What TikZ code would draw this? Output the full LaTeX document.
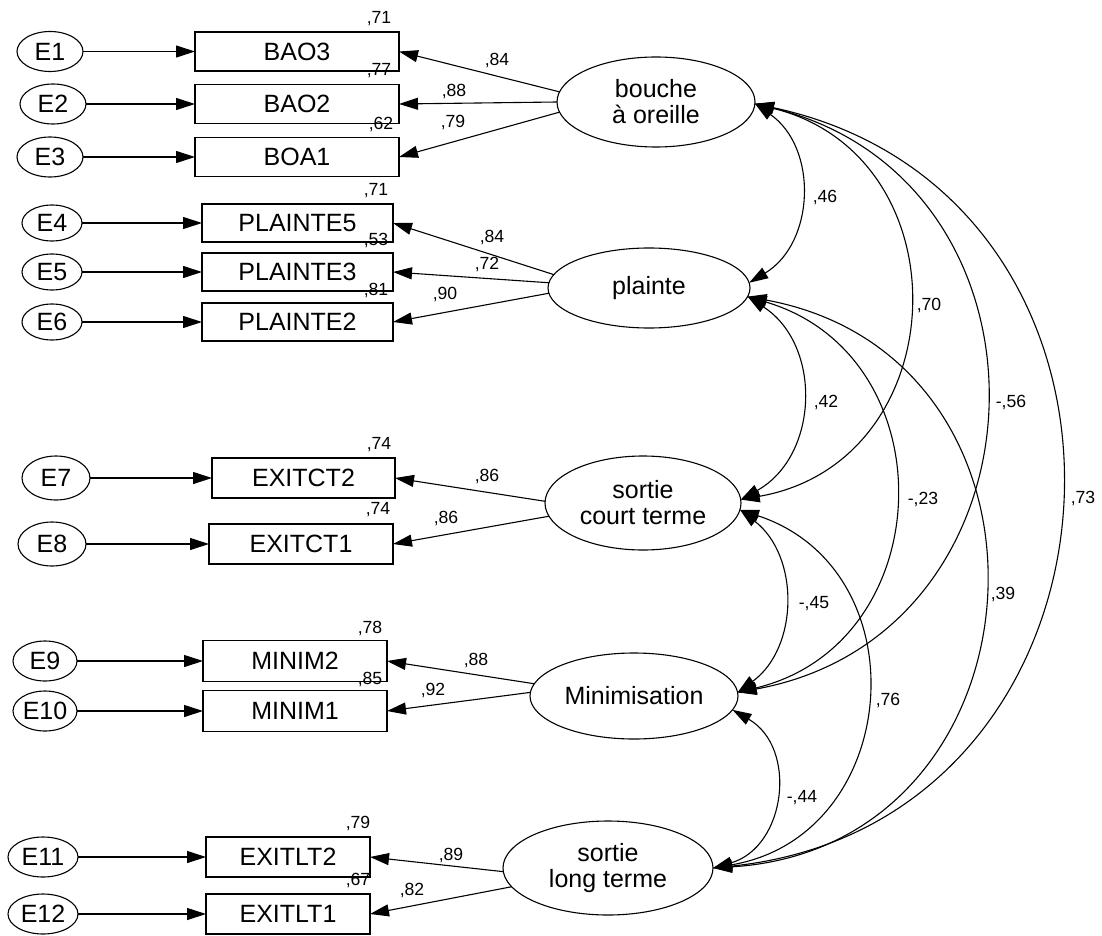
\documentclass[tikz,border=0pt]{standalone}
\usepackage{fontspec}
\setmainfont{Liberation Sans}
\usetikzlibrary{arrows.meta,shapes.geometric}
\begin{document}
\begin{tikzpicture}[x=0.5pt,y=0.5pt,
  every node/.style={inner sep=0pt, outer sep=0pt},
  txt/.style={font=\fontsize{12.5}{13}\selectfont},
  obs/.style={txt, draw, line width=0.55pt, rectangle},
  err/.style={txt, draw, line width=0.55pt, ellipse},
  lat/.style={txt, draw, line width=0.55pt, ellipse, align=center},
  lab/.style={font=\fontsize{8.8}{9}\selectfont},
  tip/.tip={Triangle[length=9.5pt,width=6pt]},
  arr/.style={line width=0.55pt, -tip},
  cov/.style={line width=0.55pt, tip-tip},
]
\useasboundingbox[fill=white] (0,0) rectangle (1102,-936);

% ---------- observed variables ----------
\node[obs, minimum width=102pt, minimum height=19.5pt] (BAO3) at (297,-51.5) {BAO3};
\node[obs, minimum width=102pt, minimum height=19.5pt] (BAO2) at (297,-104) {BAO2};
\node[obs, minimum width=102pt, minimum height=19.5pt] (BOA1) at (297,-157) {BOA1};
\node[obs, minimum width=95.5pt, minimum height=19pt] (P5) at (297.5,-223) {PLAINTE5};
\node[obs, minimum width=95.5pt, minimum height=19pt] (P3) at (297.5,-272) {PLAINTE3};
\node[obs, minimum width=95.5pt, minimum height=19pt] (P2) at (297.5,-322) {PLAINTE2};
\node[obs, minimum width=91.5pt, minimum height=20pt] (CT2) at (303.5,-478) {EXITCT2};
\node[obs, minimum width=92pt, minimum height=20pt] (CT1) at (301,-544) {EXITCT1};
\node[obs, minimum width=92pt, minimum height=20.5pt] (M2) at (295,-661) {MINIM2};
\node[obs, minimum width=92pt, minimum height=20.5pt] (M1) at (295,-711) {MINIM1};
\node[obs, minimum width=82pt, minimum height=20pt] (LT2) at (288,-857) {EXITLT2};
\node[obs, minimum width=82pt, minimum height=20pt] (LT1) at (288,-914) {EXITLT1};

% ---------- error terms ----------
\node[err, minimum width=33pt, minimum height=20pt] (E1) at (50,-51.5) {E1};
\node[err, minimum width=33pt, minimum height=20pt] (E2) at (53,-104) {E2};
\node[err, minimum width=33pt, minimum height=20pt] (E3) at (50,-157) {E3};
\node[err, minimum width=30pt, minimum height=18pt] (E4) at (52,-223) {E4};
\node[err, minimum width=30pt, minimum height=18pt] (E5) at (52,-272) {E5};
\node[err, minimum width=30pt, minimum height=18pt] (E6) at (52,-322) {E6};
\node[err, minimum width=34pt, minimum height=22pt] (E7) at (56,-478) {E7};
\node[err, minimum width=34pt, minimum height=22pt] (E8) at (52,-544) {E8};
\node[err, minimum width=32pt, minimum height=20pt] (E9) at (45,-661) {E9};
\node[err, minimum width=32pt, minimum height=20pt] (E10) at (45,-711) {E10};
\node[err, minimum width=35pt, minimum height=20pt] (E11) at (43,-857) {E11};
\node[err, minimum width=35pt, minimum height=20pt] (E12) at (43,-914) {E12};

% ---------- latent variables ----------
\node[lat, minimum width=99pt, minimum height=45pt] (BO) at (656,-102) {bouche\\à oreille};
\node[lat, minimum width=101pt, minimum height=40pt] (PL) at (649,-288) {plainte};
\node[lat, minimum width=98pt, minimum height=47pt] (CT) at (643,-503) {sortie\\court terme};
\node[lat, minimum width=104pt, minimum height=43pt] (MI) at (634,-696) {Minimisation};
\node[lat, minimum width=105pt, minimum height=47pt] (LT) at (608,-868) {sortie\\long terme};

% ---------- error arrows ----------
\foreach \e/\v in {E1/BAO3,E2/BAO2,E3/BOA1,E4/P5,E5/P3,E6/P2,E7/CT2,E8/CT1,E9/M2,E10/M1,E11/LT2,E12/LT1}
  \draw[arr] (\e.east) -- (\v.west);

% ---------- loadings ----------
\draw[arr] (BO.174) -- (BAO3.east);
\draw[arr] (BO.180) -- (BAO2.east);
\draw[arr] (BO.186) -- (BOA1.east);
\draw[arr] (PL.172) -- (P5.east);
\draw[arr] (PL.177) -- (P3.east);
\draw[arr] (PL.183) -- (P2.east);
\draw[arr] (CT.179) -- (CT2.east);
\draw[arr] (CT.188) -- (CT1.east);
\draw[arr] (MI.173) -- (M2.east);
\draw[arr] (MI.178) -- (M1.east);
\draw[arr] (LT.182) -- (LT2.east);
\draw[arr] (LT.191) -- (LT1.east);

% ---------- loading labels ----------
\node[lab] (w1) at (497,-60) {,84};
\node[lab] (w2) at (454,-91) {,88};
\node[lab] (w3) at (453,-122) {,79};
\node[lab] (w4) at (492,-237) {,84};
\node[lab] (w5) at (487,-264) {,72};
\node[lab] (w6) at (445,-294) {,90};
\node[lab] (w7) at (487,-476) {,86};
\node[lab] (w8) at (446,-518) {,86};
\node[lab] (w9) at (476,-660) {,88};
\node[lab] (w10) at (433,-690) {,92};
\node[lab] (w11) at (451,-855) {,89};
\node[lab] (w12) at (412,-890) {,82};

% ---------- squared multiple correlations ----------
\node[lab] (r1) at (379,-19) {,71};
\node[lab] (r2) at (379,-71) {,77};
\node[lab] (r3) at (381,-124) {,62};
\node[lab] (r4) at (376,-191) {,71};
\node[lab] (r5) at (376,-240) {,53};
\node[lab] (r6) at (376,-290) {,81};
\node[lab] (r7) at (379,-445) {,74};
\node[lab] (r8) at (378,-510) {,74};
\node[lab] (r9) at (370,-628) {,78};
\node[lab] (r10) at (370,-679) {,85};
\node[lab] (r11) at (358,-823) {,79};
\node[lab] (r12) at (358,-880) {,67};

% ---------- correlations ----------
\draw[cov] (BO.-1) to[bend left=57, looseness=1.10] (PL.3);
\draw[cov] (BO.-1) to[bend left=78, looseness=1.41] (CT.2);
\draw[cov] (BO.-1) to[bend left=78, looseness=1.41] (MI.2);
\draw[cov] (BO.-1) to[bend left=81, looseness=1.47] (LT.0);
\draw[cov] (PL.-5) to[bend left=59, looseness=1.125] (CT.2);
\draw[cov] (PL.-5) to[bend left=75, looseness=1.35] (MI.2);
\draw[cov] (PL.-5) to[bend left=83, looseness=1.52] (LT.0);
\draw[cov] (CT.-4) to[bend left=53, looseness=1.06] (MI.2);
\draw[cov] (CT.-4) to[bend left=76, looseness=1.37] (LT.0);
\draw[cov] (MI.-8) to[bend left=67, looseness=1.22] (LT.0);

\node[lab] (k1) at (825,-197) {,46};
\node[lab] (k2) at (929,-305) {,70};
\node[lab] (k3) at (1011,-402) {-,56};
\node[lab] (k4) at (1083,-498) {,73};
\node[lab] (k5) at (826,-402) {,42};
\node[lab] (k6) at (923,-499) {-,23};
\node[lab] (k7) at (1003,-594) {,39};
\node[lab] (k8) at (814,-604) {-,45};
\node[lab] (k9) at (888,-700) {,76};
\node[lab] (k10) at (802,-798) {-,44};
\end{tikzpicture}
\end{document}
